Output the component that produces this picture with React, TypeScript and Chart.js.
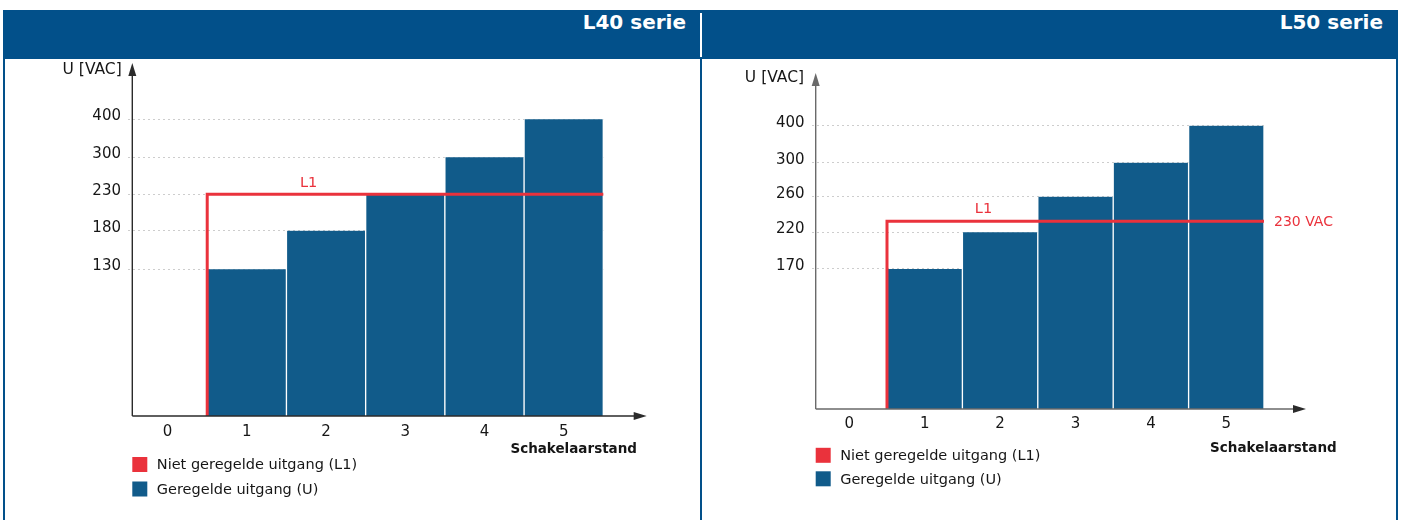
import React, { useEffect, useRef } from 'react';
import { Chart, registerables, LinearScale } from 'chart.js';

Chart.register(...registerables);

// ---------- data ----------
const categories = ['0', '1', '2', '3', '4', '5'];
const l40Regulated: (number | null)[] = [null, 130, 180, 230, 300, 400];
const l50Regulated: (number | null)[] = [null, 170, 220, 260, 300, 400];
const l40YTicks = [130, 180, 230, 300, 400];
const l50YTicks = [170, 220, 260, 300, 400];
const l1StepX = [0.5, 0.5, 5.5];
const l1StepY = [0, 230, 230];
const panelTitles = ['L40 serie', 'L50 serie'];
const legendLabels = ['Niet geregelde uitgang (L1)', 'Geregelde uitgang (U)'];
const yAxisTitle = 'U [VAC]';
const xAxisTitle = 'Schakelaarstand';
const l1Label = 'L1';
const l50RefLabel = '230 VAC';

// ---------- styles ----------
const BLUE = '#02508a';
const BAR = '#115b8a';
const RED = '#ea323c';
const AXIS = '#2b2b2b';
const TEXT = '#161616';
const FONT = "'DejaVu Sans', Verdana, sans-serif";

// piecewise (broken) linear value axis, as in the original drawing
class BreakScale extends LinearScale {
  static id = 'breaks';
  static defaults = { ticks: { callback: (v: any) => String(v) } };
  posOf(v: number): number {
    const vs: number[] = (this.options as any).breakValues;
    const ps: number[] = (this.options as any).breakPositions;
    const n = vs.length;
    for (let i = 1; i < n; i++) {
      if (v <= vs[i] || i === n - 1) {
        const v0 = vs[i - 1], v1 = vs[i], p0 = ps[i - 1], p1 = ps[i];
        return p0 + ((v - v0) * (p1 - p0)) / (v1 - v0);
      }
    }
    return 0;
  }
  buildTicks() {
    return ((this.options as any).tickValues as number[]).map((value) => ({ value }));
  }
  getPixelForValue(v: any) {
    if (v === null || v === undefined || isNaN(v)) return NaN;
    return super.getPixelForValue(this.posOf(v));
  }
}
Chart.register(BreakScale as any);

const decorPlugin = {
  id: 'decor',
  afterDatasetsDraw(chart: any, _args: any, o: any) {
    const { ctx, chartArea: ca, scales } = chart;
    const y = scales.y, x2 = scales.x2;
    const ax = ca.left + o.axisInset;
    const by = ca.bottom;
    const xTip = ca.right + o.xArrowExtra;
    ctx.save();
    ctx.strokeStyle = o.axisColor;
    ctx.fillStyle = o.axisColor;
    ctx.lineWidth = 1.4;
    ctx.beginPath();
    ctx.moveTo(ax, by);
    ctx.lineTo(ax, ca.top + 6);
    ctx.moveTo(ax, by);
    ctx.lineTo(xTip - 6, by);
    ctx.stroke();
    ctx.beginPath();
    ctx.moveTo(ax, ca.top);
    ctx.lineTo(ax - 4, ca.top + 13);
    ctx.lineTo(ax + 4, ca.top + 13);
    ctx.closePath();
    ctx.fill();
    ctx.fillStyle = AXIS;
    ctx.beginPath();
    ctx.moveTo(xTip, by);
    ctx.lineTo(xTip - 13, by - 4);
    ctx.lineTo(xTip - 13, by + 4);
    ctx.closePath();
    ctx.fill();

    ctx.fillStyle = TEXT;
    ctx.textBaseline = 'middle';
    ctx.font = `15.5px ${FONT}`;
    ctx.textAlign = 'right';
    ctx.fillText(yAxisTitle, ax + o.yTitleDx, ca.top + o.yTitleDy);
    ctx.font = `bold 13.5px ${FONT}`;
    ctx.fillText(xAxisTitle, ca.right + o.xTitleDx, by + o.xTitleDy);

    // L1 labels
    const yl = y.getPixelForValue(l1StepY[1]);
    ctx.fillStyle = RED;
    ctx.font = `14.5px ${FONT}`;
    ctx.textAlign = 'center';
    ctx.fillText(l1Label, x2.getPixelForValue(o.l1LabelAt), yl + o.l1LabelDy);
    if (o.refLabel) {
      ctx.textAlign = 'left';
      ctx.font = `14px ${FONT}`;
      ctx.fillText(o.refLabel, x2.getPixelForValue(l1StepX[2]) + 10, yl + 1);
    }

    // legend
    const ds = chart.data.datasets;
    const colors = [ds[0].borderColor, ds[1].backgroundColor];
    for (let i = 0; i < 2; i++) {
      const cy = by + o.legendDy + i * o.legendGap;
      ctx.fillStyle = colors[i];
      ctx.fillRect(ax, cy - 7.5, 15, 15);
      ctx.fillStyle = TEXT;
      ctx.textAlign = 'left';
      ctx.font = `14.5px ${FONT}`;
      ctx.fillText(legendLabels[i], ax + 24.5, cy + 1);
    }
    ctx.restore();
  },
};

type PanelCfg = {
  left: number;
  width: number;
  values: (number | null)[];
  ticks: number[];
  breakValues: number[];
  breakPositions: number[];
  yWidth: number;
  xHeight: number;
  padTop: number;
  padRight: number;
  yMax: number;
  tickPad: number;
  decor: any;
};

const panels: PanelCfg[] = [
  {
    left: 6,
    width: 694,
    values: l40Regulated,
    ticks: l40YTicks,
    breakValues: [0, 130, 180, 230, 300, 400],
    breakPositions: [0, 146.7, 185.3, 221.7, 258.7, 296.7],
    yWidth: 122,
    xHeight: 104,
    padTop: 5,
    padRight: 96.7,
    yMax: 353,
    tickPad: 7,
    decor: {
      axisColor: '#2b2b2b',
      axisInset: 4.3,
      xArrowExtra: 43.4,
      yTitleDx: -10.6,
      yTitleDy: 7,
      xTitleDx: 33.7,
      xTitleDy: 33,
      l1LabelAt: 1.78,
      l1LabelDy: -11,
      refLabel: null,
      legendDy: 48.5,
      legendGap: 24.5,
    },
  },
  {
    left: 704,
    width: 692,
    values: l50Regulated,
    ticks: l50YTicks,
    breakValues: [0, 170, 220, 230, 260, 300, 400],
    breakPositions: [0, 140, 176.7, 187.7, 212.3, 246.3, 283.3],
    yWidth: 107.6,
    xHeight: 111,
    padTop: 15,
    padRight: 132,
    yMax: 336,
    tickPad: 6,
    decor: {
      axisColor: '#6a6a6a',
      axisInset: 4.1,
      xArrowExtra: 42,
      yTitleDx: -11.7,
      yTitleDy: 5,
      xTitleDx: 72.7,
      xTitleDy: 39,
      l1LabelAt: 1.78,
      l1LabelDy: -12,
      refLabel: l50RefLabel,
      legendDy: 46.3,
      legendGap: 23.5,
    },
  },
];

const zeroPad = (s: any) => {
  s.paddingTop = 0;
  s.paddingBottom = 0;
  s.paddingLeft = 0;
  s.paddingRight = 0;
};

function PanelChart({ cfg }: { cfg: PanelCfg }) {
  const ref = useRef<HTMLCanvasElement>(null);
  useEffect(() => {
    const chart = new Chart(ref.current as HTMLCanvasElement, {
      type: 'bar',
      data: {
        labels: categories,
        datasets: [
          {
            type: 'line',
            label: legendLabels[0],
            data: l1StepX.map((x, i) => ({ x, y: l1StepY[i] })),
            xAxisID: 'x2',
            yAxisID: 'y',
            borderColor: RED,
            backgroundColor: RED,
            borderWidth: 3,
            pointRadius: 0,
            fill: false,
            tension: 0,
            order: 0,
            clip: 4,
          } as any,
          {
            type: 'bar',
            label: legendLabels[1],
            data: cfg.values,
            xAxisID: 'x',
            yAxisID: 'y',
            backgroundColor: BAR,
            borderColor: '#ffffff',
            borderWidth: { left: 1, right: 1, top: 0, bottom: 0 },
            borderSkipped: false,
            barPercentage: 1,
            categoryPercentage: 1,
            grouped: false,
            order: 1,
          } as any,
        ],
      },
      options: {
        responsive: false,
        animation: false,
        layout: { padding: { top: cfg.padTop, right: cfg.padRight, left: 0, bottom: 0 } },
        plugins: {
          legend: { display: false },
          tooltip: { enabled: false },
          decor: cfg.decor,
        } as any,
        scales: {
          x: {
            type: 'category',
            offset: true,
            grid: { display: false, drawTicks: false },
            border: { display: false },
            ticks: {
              font: { family: FONT, size: 15 },
              color: TEXT,
              padding: cfg.tickPad,
              maxRotation: 0,
              autoSkip: false,
            },
            afterFit: (s: any) => {
              s.height = cfg.xHeight;
              zeroPad(s);
            },
          },
          x2: {
            type: 'linear',
            display: false,
            offset: false,
            min: -0.5,
            max: 5.5,
            afterFit: zeroPad,
          } as any,
          y: {
            type: 'breaks',
            min: 0,
            max: cfg.yMax,
            tickValues: cfg.ticks,
            breakValues: cfg.breakValues,
            breakPositions: cfg.breakPositions,
            grid: { color: '#cdcdcd', lineWidth: 1, drawTicks: false },
            border: { display: false, dash: [2, 3] },
            ticks: {
              font: { family: FONT, size: 15 },
              color: TEXT,
              padding: 7,
              labelOffset: -3,
              autoSkip: false,
              callback: (v: any) => String(v),
            },
            afterFit: (s: any) => {
              s.width = cfg.yWidth;
              zeroPad(s);
            },
          } as any,
        },
      },
      plugins: [decorPlugin],
    });
    return () => chart.destroy();
  }, []);
  return (
    <canvas
      ref={ref}
      width={cfg.width}
      height={462}
      style={{ position: 'absolute', left: cfg.left, top: 58, width: cfg.width, height: 462 }}
    />
  );
}

export default function App() {
  const titleStyle = (right: number): React.CSSProperties => ({
    position: 'absolute',
    left: right - 400,
    width: 400,
    top: 9,
    height: 26,
    lineHeight: '26px',
    textAlign: 'right',
    color: '#ffffff',
    fontFamily: FONT,
    fontWeight: 'bold',
    fontSize: 20,
    whiteSpace: 'nowrap',
  });
  return (
    <div
      style={{
        position: 'absolute',
        left: 0,
        top: 0,
        width: 1403,
        height: 520,
        background: '#ffffff',
        overflow: 'hidden',
      }}
    >
      <div style={{ position: 'absolute', left: 3, top: 10, width: 1395, height: 49, background: BLUE }} />
      <div style={{ position: 'absolute', left: 700, top: 13, width: 2, height: 44, background: '#ffffff' }} />
      <div style={titleStyle(686)}>{panelTitles[0]}</div>
      <div style={titleStyle(1383)}>{panelTitles[1]}</div>
      <div style={{ position: 'absolute', left: 3, top: 59, width: 2, height: 470, background: BLUE }} />
      <div style={{ position: 'absolute', left: 700, top: 59, width: 2, height: 470, background: BLUE }} />
      <div style={{ position: 'absolute', left: 1396, top: 59, width: 2, height: 470, background: BLUE }} />
      {panels.map((p, i) => (
        <PanelChart key={i} cfg={p} />
      ))}
    </div>
  );
}
